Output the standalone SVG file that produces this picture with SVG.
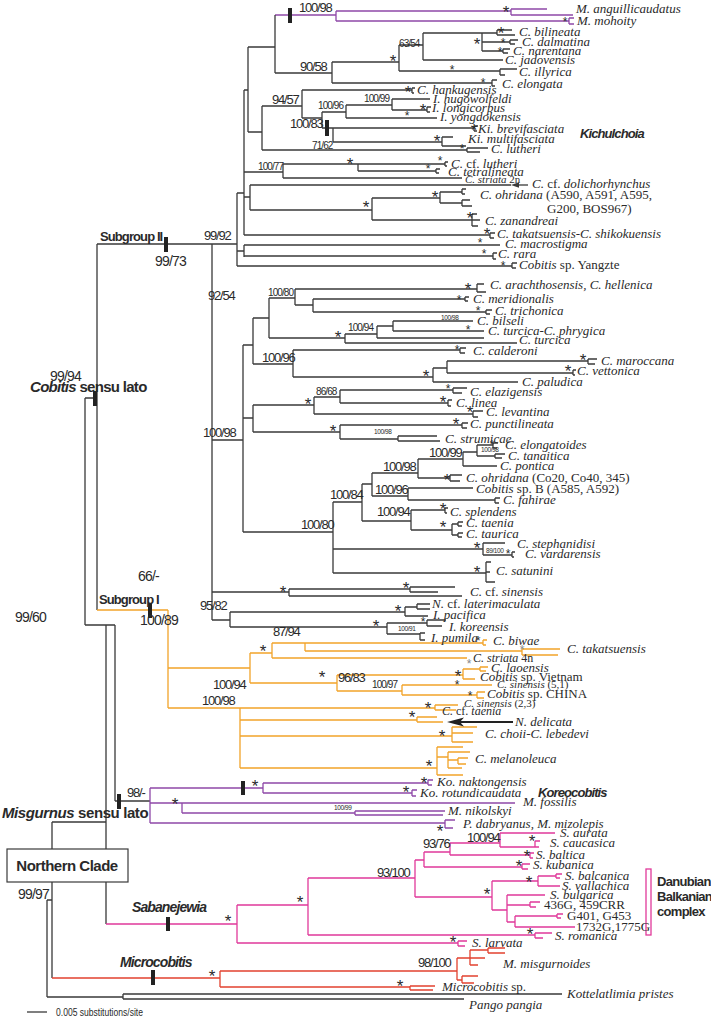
<svg xmlns="http://www.w3.org/2000/svg" width="711" height="1019" viewBox="0 0 711 1019">
<style>
.k{stroke:#3a3a3a;fill:none;stroke-width:1.3}
.p{stroke:#8e48a8;fill:none;stroke-width:1.3}
.o{stroke:#f2a42a;fill:none;stroke-width:1.3}
.m{stroke:#e0399a;fill:none;stroke-width:1.3}
.r{stroke:#e2412f;fill:none;stroke-width:1.3}
text{fill:#2a2a2a}
.sp{font-family:"Liberation Serif",serif;font-style:italic;font-size:13px}
.sp11{font-family:"Liberation Serif",serif;font-style:italic;font-size:11px}
.sp12{font-family:"Liberation Serif",serif;font-style:italic;font-size:12px}
.rg{font-style:normal}
.sv{font-family:"Liberation Sans",sans-serif;font-size:13px;letter-spacing:-1.2px}
.lv{font-family:"Liberation Sans",sans-serif;font-size:14px;letter-spacing:-0.8px}
.sm{font-family:"Liberation Sans",sans-serif;font-size:10px;letter-spacing:-0.9px}
.xs{font-family:"Liberation Sans",sans-serif;font-size:6.5px;letter-spacing:-0.4px}
.sb{font-family:"Liberation Sans",sans-serif;font-size:17px;text-anchor:middle}
.ss{font-family:"Liberation Sans",sans-serif;font-size:12px;text-anchor:middle}
.cl{font-family:"Liberation Sans",sans-serif;font-weight:bold;font-size:13px;letter-spacing:-0.9px}
.cli{font-family:"Liberation Sans",sans-serif;font-weight:bold;font-style:italic;font-size:14px;letter-spacing:-0.9px}
.gray{fill:#888}
</style>
<g id="connectors">
<path class="k" d="M47 900V997M47 900H52M47 997H123M123 994V999M123 994H562M123 999H464M52 822V978M52 822H106M106 625V924M85 625H115M115 625V801M85 398V625M85 398H97M97 244V610M97 244H212M115 801H150"/>
<path class="k" d="M212 244V620M212 244H237M237 193V266M237 193H244M237 251H244M244 90V235M244 90H248M248 47V132M248 47H275M248 132H262"/>
<path class="p" d="M275 15H336M336 11V21M336 11H511M511 9V15M511 9H547M511 15H573M336 21H569M569 18V24M569 18H574M569 24H574"/>
<path class="k" d="M275 15V73M275 73H332M332 62V83M332 62H399M399 45V71M399 45H423M423 33V60M423 33H482M482 33V51M482 33H497M497 30V35M497 30H512M497 35H515M482 42H510M510 40V44M510 40H518M510 44H515M482 51H503M503 49V53M503 49H510M503 53H508M423 60H503M399 71H500M500 69V75M500 69H517M500 75H505M332 83H492M492 80V86M492 80H497M492 86H495"/>
<path class="k" d="M262 106V150M262 106H302M302 90V118M302 90H412M412 88V93M412 88H415M412 93H414M302 118H322M322 112V128M322 112H346M346 105V118M346 105H392M392 99V110M392 99H430M392 110H427M427 107V112M427 107H431M427 112H430M346 118H437M322 128H474M474 126V131M474 126H478M474 131H477M333 128V142M333 142H442M442 137V146M442 137H453M442 146H466M262 150H467M467 148V152M467 148H488M467 152H480"/>
<path class="k" d="M244 172H283M283 164V178M283 164H358M358 164V171M358 164H445M445 162V166M445 162H448M445 166H447M358 171H436M436 169V173M436 169H440M436 173H439M283 178H462"/>
<path class="k" d="M244 197H250M250 185V210M250 185H511M250 210H372M372 198V220M372 198H440M440 192V203M440 192H462M462 189V194M462 189H466M462 194H465M440 203H462M462 200V206M462 200H470M462 206H472M372 220H472M472 214V226M472 214H477M472 220H480M472 226H478"/>
<path class="k" d="M244 235H490M490 233V238M490 233H495M490 238H494M244 245V257M244 245H500M244 256H493M493 253V259M493 253H497M493 259H496M237 266H512M512 263V268M512 263H517M512 268H516"/>
<path class="k" d="M212 440H243M243 345V532M243 345H253M243 418H253M253 318V364M253 318H269M269 298V338M269 298H295M295 289V305M295 289H477M477 284V292M477 284H484M477 292H486M295 305H313M313 299V312M313 299H465M465 297V301M465 297H469M465 301H468M313 312H486M486 310V314M486 310H492M486 314H490M269 338H345M345 334V343M345 334H377M377 326V338M377 326H393M393 321V331M393 321H473M393 331H484M377 338H484M345 343H517M253 364H293M293 350V377M293 350H460M460 348V353M460 348H466M460 353H465M293 377H433M433 368V382M433 368H447M447 361V373M447 361H588M588 359V364M588 359H597M588 364H595M447 373H573M573 370V375M573 370H576M573 375H575M433 382H518"/>
<path class="k" d="M253 405V432M253 405H314M314 397V414M314 397H340M340 390V403M340 390H453M453 388V393M453 388H467M453 393H462M340 403H448M448 400V406M448 400H452M448 406H451M314 414H473M473 411V417M473 411H483M473 417H478M253 432H340M340 425V439M340 425H462M462 423V428M462 423H468M462 428H467M340 439H398M398 436V441M398 436H437M398 441H440"/>
<path class="k" d="M243 532H333M333 502V573M333 502H362M333 549H483M333 573H486M362 484V521M362 484H372M372 473V496M372 473H418M418 459V478M418 459H463M463 452V466M463 452H477M477 445V456M477 445H493M493 443V448M493 443H498M493 448H497M477 456H495M495 454V458M495 454H505M495 458H502M463 466H497M418 478H450M450 475V481M450 475H462M450 481H460M372 496H408M408 488V500M408 488H473M408 500H495M495 498V503M495 498H500M495 503H499M362 521H411M411 510V530M411 510H445M445 508V513M445 508H448M445 513H447M411 530H452M452 524V535M452 524H458M458 522V526M458 522H463M458 526H462M452 535H458M458 533V537M458 533H463M458 537H462"/>
<path class="k" d="M483 543V555M483 543H505M483 555H512M512 552V557M512 552H515M512 557H514M486 562V582M486 562H491M486 582H495M486 572H490"/>
<path class="k" d="M212 592H289M289 589V596M289 589H410M410 587V592M410 587H455M410 592H438M289 596H462M212 620H230M230 612V627M230 612H405M405 607V616M405 607H417M417 604V609M417 604H430M417 609H430M405 616H428M230 627H387M387 623V634M387 623H427M427 620V626M427 620H446M427 626H442M387 634H420M420 633V640M420 633H425M420 640H425"/>
<path class="o" d="M97 610H168M168 610V708M168 668H250M250 653V683M250 653H272M272 643V658M272 643H305M305 643V651M305 643H483M483 640V645M483 640H487M483 645H486M305 651H522M522 649V655M522 649H560M522 655H558M272 658H467M250 683H337M337 675V691M337 675H463M463 669V679M463 669H480M480 667V671M480 667H488M480 671H486M463 679H475M337 691H402M402 685V695M402 685H492M402 695H477M477 692V698M477 692H485M477 698H484"/>
<path class="o" d="M168 708H240M240 708V768M240 708H435M435 705V710M435 705H458M435 710H456M240 720H417M417 717V722M417 717H437M417 722H443M240 736H452M452 727V742M452 727H477M452 733H473M452 742H473M240 768H437M437 747V775M437 747H463M437 775H463M437 757H448M448 752V768M448 752H470M448 760H458M458 758V764M458 758H468M458 764H466M448 768H462"/>
<path class="p" d="M150 788V823M150 788H263M263 783V793M263 783H428M428 780V785M428 780H433M428 785H432M263 793H412M412 790V796M412 790H417M412 796H416M150 803H182M182 803V813M182 803H515M182 813H355M355 811V815M355 811H445M355 815H443M150 823H445M445 820V828M445 820H455M445 828H453"/>
<path class="m" d="M106 924H237M237 905V943M237 905H308M237 943H458M458 941V946M458 941H467M458 946H465M308 878V935M308 878H415M415 860V897M415 860H424M424 852V867M424 852H450M450 843V855M450 843H500M500 833V847M500 833H555M500 847H535M535 841V847M535 841H540M535 847H539M450 855H530M530 853V858M530 853H534M530 858H533M424 867H522M522 864V869M522 864H530M522 869H528"/>
<path class="m" d="M415 897H492M492 881V910M492 881H538M538 876V886M538 876H556M556 874V878M556 874H562M556 878H560M538 886H560M492 910H507M507 895V922M507 895H545M507 905H530M530 902V907M530 902H540M530 907H536M507 922H515M515 916V927M515 916H557M557 914V918M557 914H563M557 918H561M515 927H575M308 935H535M535 933V938M535 933H552M535 938H543"/>
<rect x="646" y="869" width="5" height="66" fill="none" stroke="#e0399a" stroke-width="1.3"/>
<path class="r" d="M52 978H220M220 971V987M220 971H457M457 958V980M457 958H470M470 950V965M470 950H488M488 948V953M488 948H505M488 953H505M470 958H485M470 965H478M457 980H462M462 976V983M462 976H478M462 983H474M220 987H410M410 986V990M410 986H435M410 990H433"/>
<path class="k" d="M518 185H528"/>
<polygon points="511,185 519,182.3 519,187.7" fill="#3a3a3a"/>
<path d="M460 722H513" stroke="#222" stroke-width="2" fill="none"/>
<polygon points="447,722 464,717.5 460,722 464,726.5" fill="#222"/>
</g>
<g id="bars" fill="#222">
<rect x="288" y="8" width="4" height="15"/>
<rect x="325" y="120" width="4" height="16"/>
<rect x="164" y="237" width="4" height="15"/>
<rect x="93" y="391" width="4" height="15"/>
<rect x="148" y="603" width="4" height="15"/>
<rect x="117" y="794" width="4" height="15"/>
<rect x="241" y="781" width="4" height="14"/>
<rect x="166" y="917" width="4" height="14"/>
<rect x="151" y="970" width="4" height="15"/>
</g>
<g id="stars">
<text class="sb" x="506" y="18">*</text><text class="ss" x="565" y="26">*</text>
<text class="sb" x="393" y="67">*</text><text class="sb" x="477" y="50">*</text><text class="sb" x="501" y="39">*</text>
<text class="ss" x="503" y="47">*</text><text class="ss" x="500" y="56">*</text><text class="ss" x="452" y="74">*</text><text class="ss" x="483" y="87">*</text>
<text class="sb" x="408" y="98">*</text><text class="sb" x="423" y="116">*</text><text class="ss" x="407" y="120">*</text>
<text class="sb" x="474" y="136">*</text><text class="sb" x="437" y="147">*</text><text class="ss" x="462" y="153">*</text>
<text class="sb" x="350" y="170">*</text><text class="ss" x="440" y="165">*</text><text class="ss" x="428" y="173">*</text>
<text class="sb" x="366" y="213">*</text><text class="sb" x="435" y="203">*</text><text class="sb" x="470" y="224">*</text>
<text class="sb" x="487" y="240">*</text><text class="ss" x="480" y="247">*</text><text class="ss" x="484" y="258">*</text><text class="ss" x="503" y="270">*</text>
<text class="sb" x="468" y="295">*</text><text class="ss" x="459" y="304">*</text><text class="ss" x="478" y="315">*</text>
<text class="sb" x="338" y="343">*</text><text class="ss" x="468" y="334">*</text><text class="ss" x="457" y="354">*</text>
<text class="sb" x="426" y="382">*</text><text class="sb" x="583" y="366">*</text><text class="sb" x="568" y="377">*</text>
<text class="sb" x="308" y="410">*</text><text class="ss" x="448" y="393">*</text><text class="sb" x="443" y="408">*</text><text class="sb" x="470" y="418">*</text>
<text class="sb" x="333" y="437">*</text><text class="sb" x="456" y="430">*</text><text class="ss" x="492" y="449">*</text>
<text class="sb" x="447" y="486">*</text><text class="sb" x="443" y="515">*</text><text class="sb" x="443" y="533">*</text>
<text class="sb" x="477" y="554">*</text><text class="ss" x="508" y="558">*</text><text class="sb" x="477" y="578">*</text>
<text class="sb" x="283" y="598">*</text><text class="sb" x="406" y="594">*</text><text class="sb" x="398" y="617">*</text><text class="sb" x="376" y="632">*</text><text class="ss" x="423" y="626">*</text>
<text class="sb" x="263" y="657">*</text><text class="ss" x="478" y="645">*</text><text class="ss gray" x="522" y="654">*</text><text class="ss gray" x="469" y="668">*</text>
<text class="sb" x="322" y="683">*</text><text class="sb" x="458" y="682">*</text><text class="ss" x="457" y="689">*</text><text class="ss" x="470" y="700">*</text>
<text class="sb" x="428" y="714">*</text><text class="sb" x="412" y="723">*</text><text class="sb" x="442" y="742">*</text><text class="sb" x="429" y="772">*</text>
<text class="sb" x="255" y="792">*</text><text class="sb" x="424" y="789">*</text><text class="sb" x="406" y="798">*</text><text class="sb" x="175" y="810">*</text><text class="sb" x="440" y="837">*</text>
<text class="sb" x="228" y="927">*</text><text class="sb" x="300" y="908">*</text><text class="sb" x="487" y="900">*</text><text class="sb" x="529" y="888">*</text>
<text class="sb" x="527" y="862">*</text><text class="sb" x="519" y="872">*</text><text class="sb" x="532" y="847">*</text><text class="sb" x="530" y="940">*</text><text class="sb" x="453" y="948">*</text>
<text class="sb" x="212" y="982">*</text><text class="sb" x="400" y="992">*</text>
</g>
<g id="support">
<text class="sv" x="299" y="12">100/98</text>
<text class="sv" x="300" y="71">90/58</text>
<text class="sm" x="399" y="47">63/54</text>
<text class="sv" x="272" y="104">94/57</text>
<text class="sm" x="364" y="102">100/99</text>
<text class="sm" x="318" y="109">100/96</text>
<text class="sv" x="290" y="128">100/83</text>
<text class="sm" x="312" y="149">71/62</text>
<text class="sm" x="258" y="170">100/77</text>
<text class="sv" x="204" y="240">99/92</text>
<text class="sv" x="208" y="300">92/54</text>
<text class="sm" x="268" y="296">100/80</text>
<text class="sm" x="348" y="331">100/94</text>
<text class="xs" x="441" y="320">100/98</text>
<text class="sv" x="262" y="362">100/96</text>
<text class="sm" x="316" y="395">86/68</text>
<text class="xs" x="374" y="434">100/98</text>
<text class="sv" x="203" y="437">100/98</text>
<text class="sv" x="429" y="457">100/99</text>
<text class="xs" x="481" y="452">100/98</text>
<text class="sv" x="383" y="471">100/98</text>
<text class="sv" x="375" y="494">100/96</text>
<text class="sv" x="330" y="499">100/84</text>
<text class="sv" x="377" y="516">100/94</text>
<text class="sv" x="301" y="529">100/80</text>
<text class="xs" x="486" y="553">89/100</text>
<text class="sv" x="200" y="610">95/82</text>
<text class="xs" x="398" y="631">100/91</text>
<text class="sv" x="273" y="636">87/94</text>
<text class="sv" x="338" y="682">96/83</text>
<text class="sm" x="372" y="688">100/97</text>
<text class="sv" x="213" y="689">100/94</text>
<text class="sv" x="202" y="705">100/98</text>
<text class="lv" x="138" y="581">66/-</text>
<text class="lv" x="140" y="625">100/89</text>
<text class="lv" x="155" y="266">99/73</text>
<text class="lv" x="50" y="381">99/94</text>
<text class="lv" x="15" y="622">99/60</text>
<text class="sv" x="127" y="797">98/-</text>
<text class="xs" x="334" y="810">100/99</text>
<text class="sv" x="423" y="848">93/76</text>
<text class="sv" x="467" y="842">100/94</text>
<text class="sv" x="377" y="877">93/100</text>
<text class="sv" x="418" y="967">98/100</text>
<text class="lv" x="18" y="899">99/97</text>
</g>
<g id="clades">
<text class="cl" x="100" y="241">Subgroup II</text>
<text class="cl" x="99" y="604">Subgroup I</text>
<text class="cl" x="30" y="392" style="font-size:15px;letter-spacing:-0.7px"><tspan font-style="italic">Cobitis</tspan> sensu lato</text>
<text class="cl" x="2" y="818" style="font-size:15px;letter-spacing:-0.4px"><tspan font-style="italic">Misgurnus</tspan> sensu lato</text>
<g id="northern-clade"><rect x="7" y="849" width="121" height="33" fill="#fff" stroke="#3a3a3a" stroke-width="1.2"/>
<text class="cl" x="67" y="871" text-anchor="middle" style="font-size:15px;letter-spacing:-0.5px">Northern Clade</text></g>
<text class="cli" x="132" y="912">Sabanejewia</text>
<text class="cli" x="120" y="967">Microcobitis</text>
<text class="cli" x="580" y="138" style="font-size:13px">Kichulchoia</text>
<text class="cli" x="538" y="797" style="font-size:13px">Koreocobitis</text>
<text class="cl" x="657" y="886" style="letter-spacing:-0.7px">Danubian</text>
<text class="cl" x="657" y="901" style="letter-spacing:-0.7px">Balkanian</text>
<text class="cl" x="657" y="916" style="letter-spacing:-0.7px">complex</text>
</g>
<g id="taxa">
<text class="sp" x="576" y="13">M. anguillicaudatus</text>
<text class="sp" x="577" y="25">M. mohoity</text>
<text class="sp" x="519" y="36">C. bilineata</text>
<text class="sp" x="522" y="46">C. dalmatina</text>
<text class="sp" x="513" y="55">C. narentana</text>
<text class="sp" x="505" y="64">C. jadovensis</text>
<text class="sp" x="519" y="76">C. illyrica</text>
<text class="sp" x="502" y="88">C. elongata</text>
<text class="sp" x="417" y="94">C. hankugensis</text>
<text class="sp" x="433" y="103">I. hugowolfeldi</text>
<text class="sp" x="432" y="112">I. longicorpus</text>
<text class="sp" x="440" y="121">I. yongdokensis</text>
<text class="sp" x="478" y="133">Ki. brevifasciata</text>
<text class="sp" x="468" y="143">Ki. multifasciata</text>
<text class="sp" x="491" y="153">C. lutheri</text>
<text class="sp" x="451" y="168">C. <tspan class="rg">cf.</tspan> lutheri</text>
<text class="sp" x="448" y="176">C. tetralineata</text>
<text class="sp11" x="465" y="183">C. striata <tspan class="rg">2n</tspan></text>
<text class="sp" x="532" y="188">C. <tspan class="rg">cf.</tspan> dolichorhynchus</text>
<text class="sp" x="480" y="199">C. ohridana <tspan class="rg">(A590, A591, A595,</tspan></text>
<text class="sp rg" x="547" y="213" style="font-style:normal">G200, BOS967)</text>
<text class="sp" x="485" y="225">C. zanandreai</text>
<text class="sp" x="497" y="238">C. takatsuensis-C. shikokuensis</text>
<text class="sp" x="505" y="248">C. macrostigma</text>
<text class="sp" x="498" y="258">C. rara</text>
<text class="sp" x="519" y="269">Cobitis <tspan class="rg">sp. Yangzte</tspan></text>
<text class="sp" x="490" y="289">C. arachthosensis, C. hellenica</text>
<text class="sp" x="473" y="303">C. meridionalis</text>
<text class="sp" x="495" y="315">C. trichonica</text>
<text class="sp" x="477" y="325">C. bilseli</text>
<text class="sp" x="488" y="335">C. turcica-C. phrygica</text>
<text class="sp" x="519" y="344">C. turcica</text>
<text class="sp" x="473" y="355">C. calderoni</text>
<text class="sp" x="601" y="365">C. maroccana</text>
<text class="sp" x="577" y="375">C. vettonica</text>
<text class="sp" x="522" y="386">C. paludica</text>
<text class="sp" x="470" y="396">C. elazigensis</text>
<text class="sp" x="456" y="407">C. linea</text>
<text class="sp" x="486" y="416">C. levantina</text>
<text class="sp" x="470" y="428">C. punctilineata</text>
<text class="sp" x="445" y="443">C. strumicae</text>
<text class="sp" x="505" y="449">C. elongatoides</text>
<text class="sp" x="508" y="460">C. tanaitica</text>
<text class="sp" x="500" y="470">C. pontica</text>
<text class="sp" x="466" y="482">C. ohridana <tspan class="rg">(Co20, Co40, 345)</tspan></text>
<text class="sp" x="476" y="493">Cobitis <tspan class="rg">sp. B (A585, A592)</tspan></text>
<text class="sp" x="503" y="504">C. fahirae</text>
<text class="sp" x="450" y="516">C. splendens</text>
<text class="sp" x="466" y="527">C. taenia</text>
<text class="sp" x="466" y="538">C. taurica</text>
<text class="sp" x="517" y="548">C. stephanidisi</text>
<text class="sp" x="525" y="558">C. vardarensis</text>
<text class="sp" x="496" y="575">C. satunini</text>
<text class="sp" x="470" y="596">C. <tspan class="rg">cf.</tspan> sinensis</text>
<text class="sp" x="432" y="608">N. <tspan class="rg">cf.</tspan> laterimaculata</text>
<text class="sp" x="433" y="619">I. pacifica</text>
<text class="sp" x="449" y="631">I. koreensis</text>
<text class="sp" x="431" y="642">I. pumila</text>
<text class="sp" x="493" y="645">C. biwae</text>
<text class="sp" x="567" y="653">C. takatsuensis</text>
<text class="sp12" x="473" y="662">C. striata <tspan class="rg">4n</tspan></text>
<text class="sp" x="491" y="672">C. laoensis</text>
<text class="sp" x="480" y="681">Cobitis <tspan class="rg">sp. Vietnam</tspan></text>
<text class="sp11" x="497" y="688">C. sinensis <tspan class="rg">(5,1)</tspan></text>
<text class="sp" x="487" y="698">Cobitis <tspan class="rg">sp. CHINA</tspan></text>
<text class="sp11" x="464" y="707">C. sinensis <tspan class="rg">(2,3)</tspan></text>
<text class="sp12" x="442" y="715">C. <tspan class="rg">cf.</tspan> taenia</text>
<text class="sp" x="515" y="726">N. delicata</text>
<text class="sp" x="485" y="738">C. choii-C. lebedevi</text>
<text class="sp" x="475" y="763">C. melanoleuca</text>
<text class="sp" x="437" y="786">Ko. naktongensis</text>
<text class="sp" x="420" y="797">Ko. rotundicaudata</text>
<text class="sp" x="523" y="806">M. fossilis</text>
<text class="sp" x="448" y="815">M. nikolskyi</text>
<text class="sp" x="463" y="828">P. dabryanus, M. mizolepis</text>
<text class="sp" x="560" y="837">S. aurata</text>
<text class="sp" x="550" y="847">S. caucasica</text>
<text class="sp" x="536" y="859">S. baltica</text>
<text class="sp" x="533" y="869">S. kubanica</text>
<text class="sp" x="565" y="880">S. balcanica</text>
<text class="sp" x="562" y="890">S. vallachica</text>
<text class="sp" x="550" y="899">S. bulgarica</text>
<text class="sp rg" x="544" y="909" style="font-style:normal">436G, 459CRR</text>
<text class="sp rg" x="567" y="920" style="font-style:normal">G401, G453</text>
<text class="sp rg" x="576" y="931" style="font-style:normal">1732G,1775G</text>
<text class="sp" x="555" y="940">S. romanica</text>
<text class="sp" x="472" y="947">S. larvata</text>
<text class="sp" x="503" y="968">M. misgurnoides</text>
<text class="sp" x="442" y="991">Microcobitis <tspan class="rg">sp.</tspan></text>
<text class="sp" x="567" y="998">Kottelatlimia pristes</text>
<text class="sp" x="469" y="1009">Pango pangia</text>
</g>
<g id="scale">
<path class="k" d="M27 1012H47"/>
<text x="56" y="1016" style="font-family:'Liberation Sans',sans-serif;font-size:11px" textLength="87" lengthAdjust="spacingAndGlyphs">0.005 substitutions/site</text>
</g>
</svg>
